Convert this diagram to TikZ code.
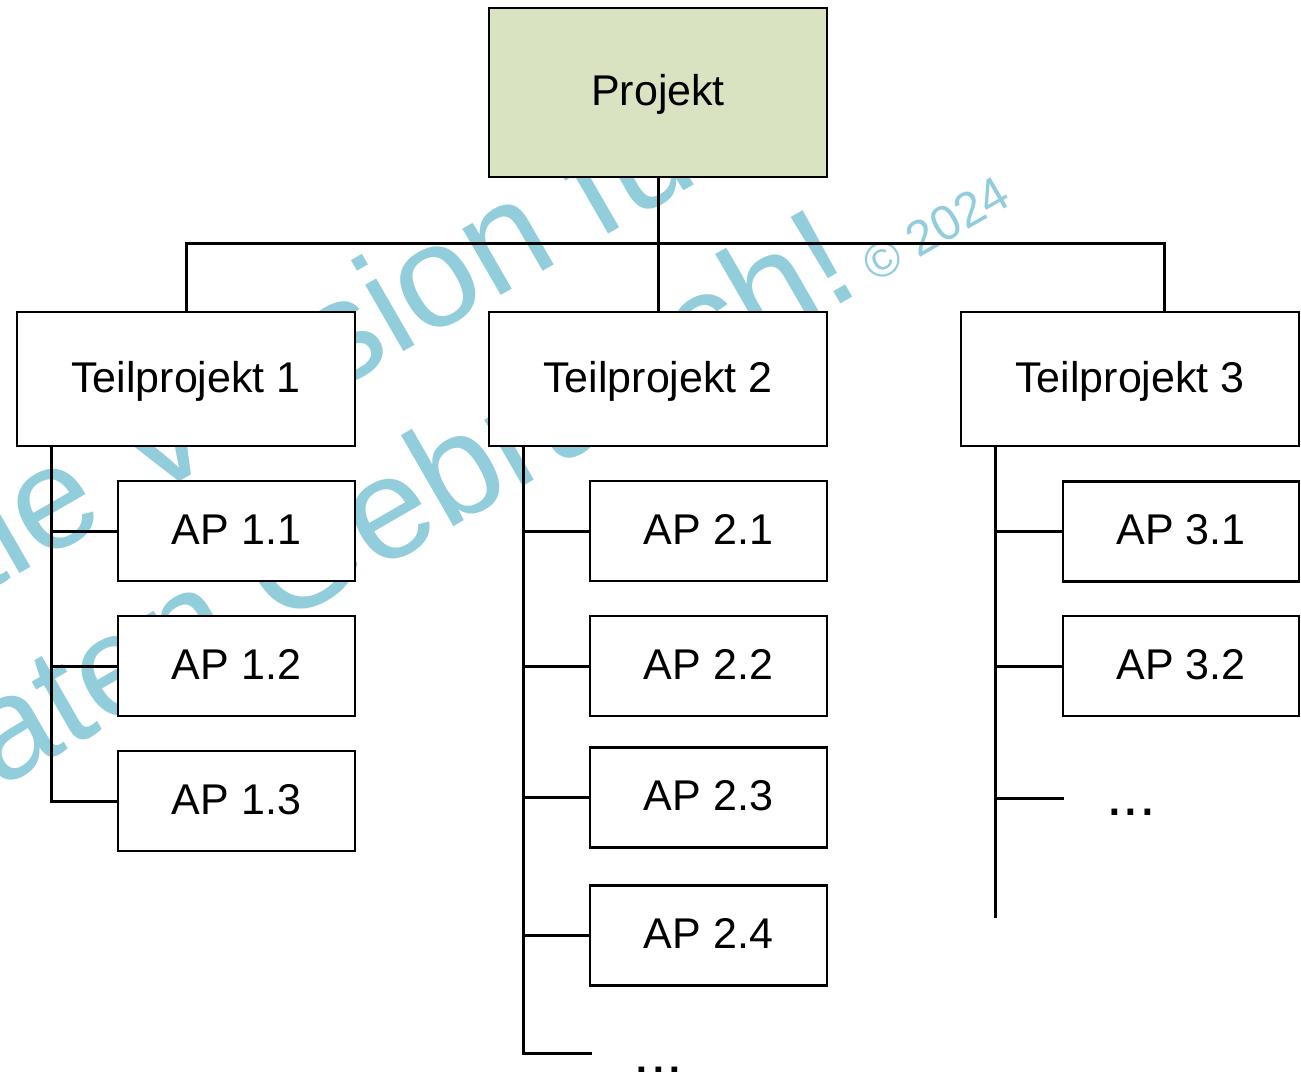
\documentclass[tikz,border=0pt]{standalone}
\usepackage{fontspec}
\setmainfont{Liberation Sans}
\definecolor{wm}{HTML}{92CDDC}
\definecolor{projfill}{HTML}{D9E3C2}
\begin{document}
\begin{tikzpicture}[x=1pt,y=-1pt,
  box/.style={draw=black, line width=2.4pt, fill=white, inner sep=0pt,
    text height=26pt, text depth=0pt, font=\fontsize{43}{50}\selectfont},
  tpbox/.style={box, minimum width=338pt, minimum height=134pt},
  apbox/.style={box, minimum width=237pt, minimum height=100pt},
  conn/.style={line width=3pt},
  wmark/.style={text=wm, rotate=30, anchor=base west, inner sep=0pt,
    font=\fontsize{145}{170}\selectfont},
  more/.style={anchor=base, inner sep=0pt, font=\fontsize{60}{70}\selectfont}]
\useasboundingbox (0,0) rectangle (1301,1071);
\fill[white] (0,0) rectangle (1301,1071);
% watermark
\node[wmark] (wm1) at (-310,764) {Digitale Version für};
\node[wmark] (wm2) at (-204,906.5) {privaten Gebrauch!{\fontsize{49}{55}\selectfont\ © 2024}};
% helper coordinates
\coordinate (busy) at (0,243);
\coordinate (riser3) at (1164,0);
\coordinate (trunk1) at (51,0);
\coordinate (trunk2) at (523,0);
\coordinate (trunk3) at (995,0);
\coordinate (more2) at (592,1053);
\coordinate (end2) at (523,1053);
\coordinate (more3) at (1064,798);
\coordinate (end3) at (995,918);
% nodes
\node[box, minimum width=338pt, minimum height=169pt, fill=projfill] (P) at (658,92.5) {Projekt};
\node[tpbox] (T1) at (186,379) {Teilprojekt 1};
\node[tpbox] (T2) at (658,379) {Teilprojekt 2};
\node[tpbox] (T3) at (1130,379) {Teilprojekt 3};
\node[apbox] (A11) at (236.5,531) {AP 1.1};
\node[apbox] (A12) at (236.5,666) {AP 1.2};
\node[apbox] (A13) at (236.5,801) {AP 1.3};
\node[apbox] (A21) at (708.5,531) {AP 2.1};
\node[apbox] (A22) at (708.5,666) {AP 2.2};
\node[apbox] (A23) at (708.5,797.5) {AP 2.3};
\node[apbox] (A24) at (708.5,935.5) {AP 2.4};
\node[apbox, minimum width=236pt] (A31) at (1181,531.5) {AP 3.1};
\node[apbox, minimum width=236pt] (A32) at (1181,666) {AP 3.2};
\node[more] (D2) at (658.5,1073) {...};
\node[more] (D3) at (1131,815) {...};
% connectors
\draw[conn] (P.south) -- (T2.north);
\draw[conn] (T1.north) -- (T1.north |- busy) -- (riser3 |- busy) -- (riser3 |- T3.north);
\draw[conn] (trunk1 |- T1.south) -- (trunk1 |- A13.west) -- (A13.west);
\draw[conn] (trunk1 |- A11.west) -- (A11.west);
\draw[conn] (trunk1 |- A12.west) -- (A12.west);
\draw[conn] (trunk2 |- T2.south) -- (end2) -- (more2);
\draw[conn] (trunk2 |- A21.west) -- (A21.west);
\draw[conn] (trunk2 |- A22.west) -- (A22.west);
\draw[conn] (trunk2 |- A23.west) -- (A23.west);
\draw[conn] (trunk2 |- A24.west) -- (A24.west);
\draw[conn] (trunk3 |- T3.south) -- (end3);
\draw[conn] (trunk3 |- A31.west) -- (A31.west);
\draw[conn] (trunk3 |- A32.west) -- (A32.west);
\draw[conn] (trunk3 |- more3) -- (more3);
\end{tikzpicture}
\end{document}
